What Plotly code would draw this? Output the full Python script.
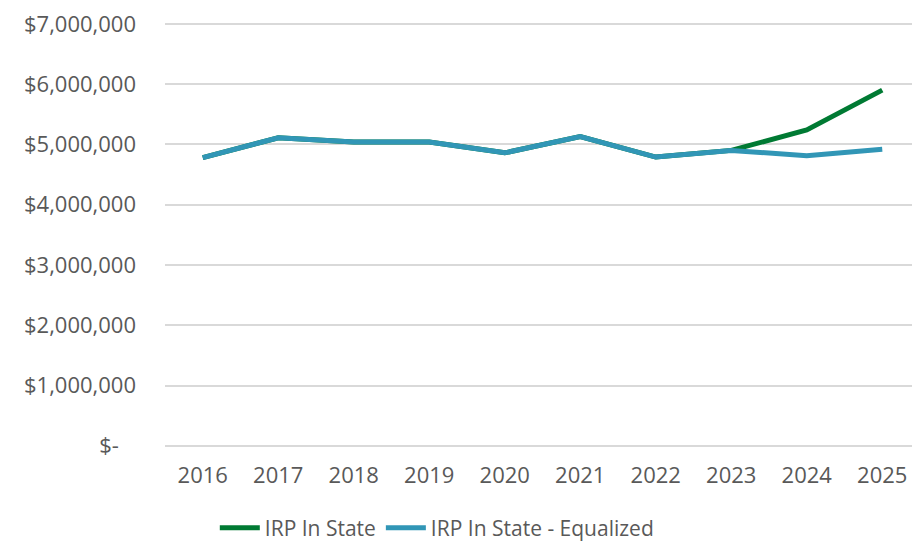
import plotly.graph_objects as go

years = ["2016", "2017", "2018", "2019", "2020", "2021", "2022", "2023", "2024", "2025"]
irp_in_state = [4780000, 5110000, 5040000, 5040000, 4860000, 5130000, 4790000, 4900000, 5240000, 5900000]
irp_equalized = [4780000, 5110000, 5040000, 5040000, 4860000, 5130000, 4790000, 4900000, 4810000, 4920000]

y_ticks = [0, 1000000, 2000000, 3000000, 4000000, 5000000, 6000000, 7000000]
y_ticktext = ["$-\u00a0\u00a0\u00a0"] + [f"${v:,}" for v in y_ticks[1:]]

GREEN = "#007A33"
BLUE = "#3196B6"
GREY = "#595959"
FONT = "Open Sans, DejaVu Sans, sans-serif"

fig = go.Figure()

fig.add_trace(
    go.Scatter(
        x=years,
        y=irp_in_state,
        mode="lines",
        name="IRP In State",
        line=dict(color=GREEN, width=5),
    )
)
fig.add_trace(
    go.Scatter(
        x=years,
        y=irp_equalized,
        mode="lines",
        name="IRP In State - Equalized",
        line=dict(color=BLUE, width=5),
    )
)

fig.update_xaxes(
    type="category",
    range=[-0.5, 9.5],
    showgrid=False,
    showline=False,
    zeroline=False,
    ticks="",
    tickfont=dict(size=22, color=GREY, family=FONT),
    ticklabelstandoff=13,
    automargin=False,
)

fig.update_yaxes(
    range=[-20000, 7030000],
    tickmode="array",
    tickvals=y_ticks,
    ticktext=y_ticktext,
    showgrid=True,
    gridcolor="#D9D9D9",
    gridwidth=1.5,
    zeroline=True,
    zerolinecolor="#D9D9D9",
    zerolinewidth=1.5,
    showline=False,
    ticks="",
    tickfont=dict(size=22, color=GREY, family=FONT),
    ticklabelstandoff=28,
    ticklabeloverflow="allow",
    automargin=False,
)

# the page puts the plot 8px in from the top-left corner, so size it to fit
fig.update_layout(
    width=912,
    height=536,
    paper_bgcolor="white",
    plot_bgcolor="white",
    font=dict(family=FONT, color=GREY, size=21),
    margin=dict(l=157, r=0, t=14, b=97, autoexpand=False),
    showlegend=True,
    legend=dict(
        orientation="h",
        xanchor="center",
        x=0.36,
        yanchor="middle",
        y=-0.191,
        font=dict(size=21, color=GREY, family=FONT),
        itemwidth=40,
        traceorder="normal",
    ),
)

fig.write_html("out.html")
